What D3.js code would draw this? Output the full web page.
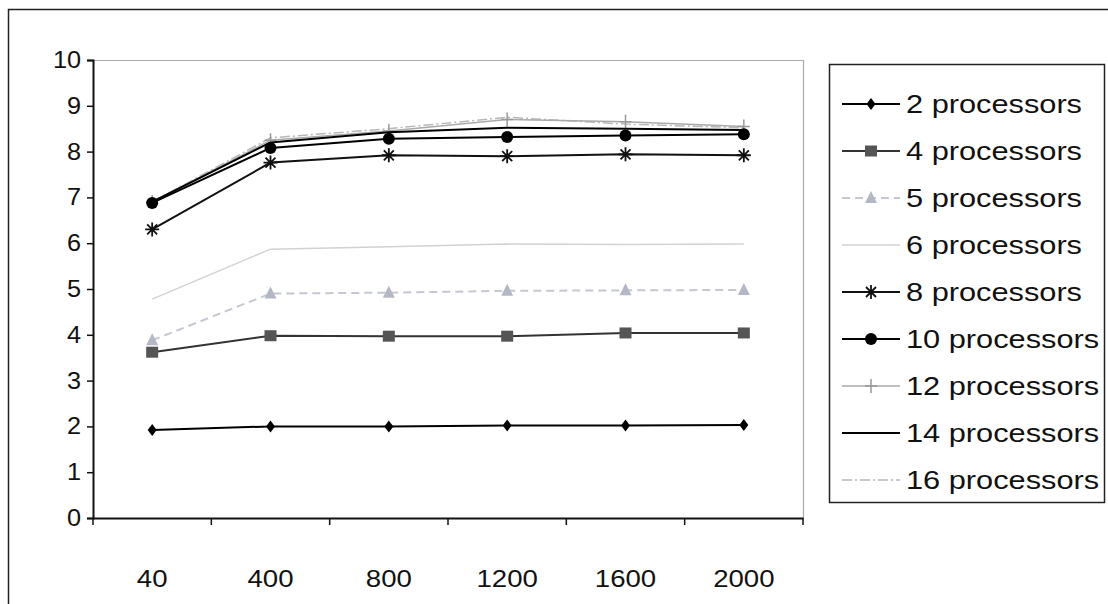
<!DOCTYPE html>
<html>
<head>
<meta charset="utf-8">
<script src="https://cdn.jsdelivr.net/npm/d3@7"></script>
<style>
  body { margin: 0; background: #fff; }
  svg { display: block; }
  .lbl { font-family: "Liberation Sans", Arial, sans-serif; fill: #111; }
</style>
</head>
<body>
<script>
// data
const sizes = ["40", "400", "800", "1200", "1600", "2000"];
const seriesNames = ["2 processors", "4 processors", "5 processors", "6 processors", "8 processors",
  "10 processors", "12 processors", "14 processors", "16 processors"];
const p2  = [1.92, 2.00, 2.00, 2.02, 2.02, 2.03];
const p4  = [3.62, 3.98, 3.97, 3.97, 4.04, 4.04];
const p5  = [3.88, 4.90, 4.92, 4.96, 4.97, 4.98];
const p6  = [4.78, 5.87, 5.92, 5.98, 5.97, 5.98];
const p8  = [6.30, 7.76, 7.92, 7.90, 7.94, 7.92];
const p10 = [6.88, 8.08, 8.28, 8.32, 8.35, 8.38];
const p12 = [6.90, 8.25, 8.45, 8.70, 8.65, 8.55];
const p14 = [6.90, 8.20, 8.42, 8.52, 8.50, 8.47];
const p16 = [6.90, 8.30, 8.50, 8.75, 8.60, 8.52];
const yTicks = [0, 1, 2, 3, 4, 5, 6, 7, 8, 9, 10];

// styles per series (appearance only)
const styles = [
  { color: "#000",    width: 2,   marker: "diamond",  mcol: "#000",    dash: null },
  { color: "#333",    width: 2,   marker: "square",   mcol: "#555",    dash: null },
  { color: "#c4c8d2", width: 2,   marker: "triangle", mcol: "#b4b8c4", dash: "8,5" },
  { color: "#d2d2d6", width: 1.5, marker: "none",     mcol: "#d2d2d6", dash: null },
  { color: "#111",    width: 2,   marker: "star",     mcol: "#111",    dash: null },
  { color: "#000",    width: 2,   marker: "circle",   mcol: "#000",    dash: null },
  { color: "#aaa",    width: 1.5, marker: "plus",     mcol: "#999",    dash: null },
  { color: "#000",    width: 2,   marker: "none",     mcol: "#000",    dash: null },
  { color: "#b8b8bc", width: 1.5, marker: "none",     mcol: "#b8b8bc", dash: "10,3,2,3" }
];
const allValues = [p2, p4, p5, p6, p8, p10, p12, p14, p16];

const W = 1108, H = 604;
const svg = d3.select("body").append("svg").attr("width", W).attr("height", H);

// outer frame
svg.append("path").attr("d", `M8.5,${H} V9.5 H${W}`)
  .attr("fill", "none").attr("stroke", "#222").attr("stroke-width", 1.5);

const x = d3.scaleBand().domain(sizes).range([93, 803]).padding(0);
const y = d3.scaleLinear().domain([0, 10]).range([518, 60]);
const cx = c => x(c) + x.bandwidth() / 2;

// plot-area border (top / right)
svg.append("path").attr("d", `M93,60.5 H803.5 V518`)
  .attr("fill", "none").attr("stroke", "#aaa").attr("stroke-width", 1.2);

// helper for horizontally stretched text, like the scanned original
function label(g, tx, ty, txt, size, anchor, sx) {
  g.append("text").attr("class", "lbl")
    .attr("transform", `translate(${tx},${ty}) scale(${sx},1)`)
    .attr("text-anchor", anchor)
    .attr("font-size", size)
    .text(txt);
}

// y axis
const yAxis = svg.append("g").attr("transform", "translate(93,0)")
  .call(d3.axisLeft(y).tickValues(yTicks).tickSize(6).tickFormat(""));
yAxis.select(".domain").attr("stroke", "#111").attr("stroke-width", 2);
yAxis.selectAll(".tick line").attr("stroke", "#111").attr("stroke-width", 1.5);
yTicks.forEach(t => label(svg, 81, y(t) + 8, String(t), 23, "end", 1.1));

// x axis
const xAxis = svg.append("g").attr("transform", "translate(0,518)")
  .call(d3.axisBottom(x).tickSize(0).tickFormat(""));
xAxis.select(".domain").attr("stroke", "#111").attr("stroke-width", 2);
const bounds = sizes.map(s => x(s)).concat([x.range()[1]]);
xAxis.selectAll(".bt").data(bounds).join("line").attr("class", "bt")
  .attr("x1", d => d).attr("x2", d => d).attr("y1", 0).attr("y2", 7)
  .attr("stroke", "#111").attr("stroke-width", 1.5);
sizes.forEach(s => label(svg, cx(s), 587, s, 23, "middle", 1.2));

// marker drawing
function marker(g, type, px, py, col) {
  const s = g.append("g").attr("transform", `translate(${px},${py})`);
  if (type === "diamond") s.append("path").attr("d", "M0,-6 L4.5,0 L0,6 L-4.5,0Z").attr("fill", col);
  if (type === "square") s.append("rect").attr("x", -6).attr("y", -5.5).attr("width", 12).attr("height", 11).attr("fill", col);
  if (type === "triangle") s.append("path").attr("d", "M0,-7 L6,5 L-6,5Z").attr("fill", col);
  if (type === "circle") s.append("circle").attr("r", 6).attr("fill", col);
  if (type === "star") s.append("path")
    .attr("d", "M-7,0 H7 M0,-7 V7 M-5,-5 L5,5 M-5,5 L5,-5")
    .attr("stroke", col).attr("stroke-width", 1.8);
  if (type === "plus") s.append("path").attr("d", "M-6,0 H6 M0,-7 V7")
    .attr("stroke", col).attr("stroke-width", 1.5);
}

// lines, drawn back to front (light ones first)
const order = [8, 6, 3, 2, 1, 0, 7, 4, 5];
const line = d3.line().x((d, i) => cx(sizes[i])).y(d => y(d));
order.forEach(k => {
  const st = styles[k];
  const g = svg.append("g");
  g.append("path").datum(allValues[k]).attr("d", line)
    .attr("fill", "none").attr("stroke", st.color).attr("stroke-width", st.width)
    .attr("stroke-dasharray", st.dash);
  allValues[k].forEach((v, i) => marker(g, st.marker, cx(sizes[i]), y(v), st.mcol));
});

// legend
const lg = svg.append("g");
lg.append("rect").attr("x", 829.5).attr("y", 64.5).attr("width", 275).attr("height", 438)
  .attr("fill", "#fff").attr("stroke", "#222").attr("stroke-width", 1.5);
seriesNames.forEach((n, i) => {
  const st = styles[i];
  const ly = 104 + i * 47;
  lg.append("line").attr("x1", 842).attr("x2", 900).attr("y1", ly).attr("y2", ly)
    .attr("stroke", st.color).attr("stroke-width", st.width).attr("stroke-dasharray", st.dash);
  marker(lg, st.marker, 871, ly, st.mcol);
  label(lg, 906, ly + 9, n, 25, "start", 1.23);
});
</script>
</body>
</html>
